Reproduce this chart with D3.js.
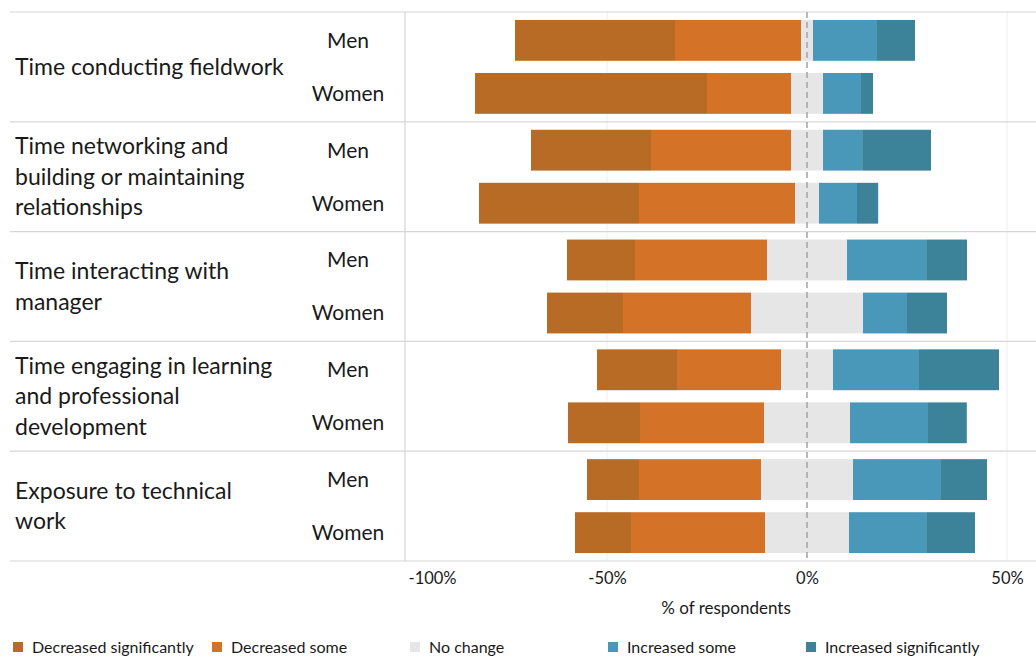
<!DOCTYPE html>
<html>
<head>
<meta charset="utf-8">
<script src="https://cdn.jsdelivr.net/npm/d3@7"></script>
<style>
  body { margin: 0; background: #fff; }
  svg { font-family: Lato, "Open Sans", sans-serif; }
</style>
</head>
<body>
<svg width="1036" height="658"></svg>
<script>
var svg = d3.select('svg');
var width = +svg.attr('width');
var height = +svg.attr('height');

// category labels, already broken into lines
var categories = [
    ["Time conducting fieldwork"],
    ["Time networking and", "building or maintaining", "relationships"],
    ["Time interacting with", "manager"],
    ["Time engaging in learning", "and professional", "development"],
    ["Exposure to technical", "work"]
];
var genders = ["Men", "Women"];

// one value per row: cat1 men, cat1 women, cat2 men, ...
var decSig   = [40, 58, 30, 40, 17, 19, 20, 18, 13, 14];
var decSome  = [31.5, 21, 35, 39, 33, 32, 26, 31, 30.5, 33.5];
var noChange = [3, 8, 8, 6, 20, 28, 13, 21.5, 23, 21];
var incSome  = [16, 9.5, 10, 9.5, 20, 11, 21.5, 19.5, 22, 19.5];
var incSig   = [9.5, 3, 17, 5.3, 10, 10, 20, 9.7, 11.5, 12];

var seriesNames = ["Decreased significantly", "Decreased some", "No change", "Increased some", "Increased significantly"];
var colors = ["#b86b25", "#d47328", "#e6e6e6", "#4a98b9", "#3c8299"];

var tickValues = [-100, -50, 0, 50];

// build rows
var rows = [];
categories.forEach(function(cat, ci) {
    genders.forEach(function(g, gi) {
        var i = ci * 2 + gi;
        var nc = noChange[i];
        var segs = [];
        // negative side, stacked leftwards from -nc/2
        var x0 = -nc / 2;
        segs.push({ s: 1, a: x0 - decSome[i], b: x0 });
        segs.push({ s: 0, a: x0 - decSome[i] - decSig[i], b: x0 - decSome[i] });
        segs.push({ s: 2, a: -nc / 2, b: nc / 2 });
        var x1 = nc / 2;
        segs.push({ s: 3, a: x1, b: x1 + incSome[i] });
        segs.push({ s: 4, a: x1 + incSome[i], b: x1 + incSome[i] + incSig[i] });
        rows.push({ cat: ci, gender: g, segs: segs });
    });
});

var yTop = 12, yBottom = 561;
var x = d3.scaleLinear().domain([-100, 50]).range([407, 1007]);
var yCat = d3.scaleBand().domain(d3.range(categories.length)).range([yTop, yBottom]);
var yG = d3.scaleBand().domain(genders).range([0, yCat.bandwidth()])
    .paddingInner(0.23).paddingOuter(0.15);

// grid
var grid = svg.append('g').attr('class', 'grid');
grid.selectAll('.vgrid').data([-50, 50]).enter().append('line')
    .attr('x1', d => x(d)).attr('x2', d => x(d))
    .attr('y1', yTop).attr('y2', yBottom)
    .attr('stroke', '#efefef').attr('stroke-width', 1);
grid.selectAll('.hgrid').data(d3.range(categories.length + 1)).enter().append('line')
    .attr('x1', 10).attr('x2', width)
    .attr('y1', d => yTop + d * yCat.step()).attr('y2', d => yTop + d * yCat.step())
    .attr('stroke', '#d6d6d6').attr('stroke-width', 1.2);
grid.append('line')
    .attr('x1', 405).attr('x2', 405).attr('y1', yTop).attr('y2', yBottom)
    .attr('stroke', '#d6d6d6').attr('stroke-width', 1.2);

// bars
var rowG = svg.append('g').selectAll('.row').data(rows).enter().append('g')
    .attr('class', 'row')
    .attr('transform', d => 'translate(0,' + (yCat(d.cat) + yG(d.gender)) + ')');
rowG.selectAll('rect').data(d => d.segs).enter().append('rect')
    .attr('x', d => x(d.a))
    .attr('width', d => x(d.b) - x(d.a))
    .attr('y', 0)
    .attr('height', yG.bandwidth())
    .attr('fill', d => colors[d.s]);

// zero line
svg.append('line')
    .attr('x1', x(0)).attr('x2', x(0)).attr('y1', yTop).attr('y2', yBottom)
    .attr('stroke', '#a8a8a8').attr('stroke-width', 1.6)
    .attr('stroke-dasharray', '6,4');

// gender labels
rowG.append('text')
    .attr('x', 348).attr('y', yG.bandwidth() / 2).attr('dy', '0.35em')
    .attr('text-anchor', 'middle').attr('font-size', '21px').attr('fill', '#1a1a1a')
    .text(d => d.gender);

// category labels
var catG = svg.append('g').selectAll('.cat').data(categories).enter().append('text')
    .attr('class', 'cat')
    .attr('font-size', '23px').attr('fill', '#1a1a1a')
    .attr('transform', (d, i) => 'translate(15,' + (yCat(i) + yCat.bandwidth() / 2) + ')');
catG.selectAll('tspan').data(d => d.map((t, j) => ({ t: t, j: j, n: d.length }))).enter()
    .append('tspan')
    .attr('x', 0)
    .attr('y', d => (d.j - (d.n - 1) / 2) * 30.5)
    .attr('dy', '0.35em')
    .text(d => d.t);

// x axis
var axis = svg.append('g').attr('transform', 'translate(0,' + yBottom + ')')
    .call(d3.axisBottom(x).tickValues(tickValues).tickSize(0).tickPadding(11)
        .tickFormat(d => d + '%'));
axis.select('.domain').remove();
axis.selectAll('text').attr('font-size', '16.5px').attr('fill', '#1a1a1a')
    .attr('font-family', 'Lato, sans-serif');
axis.selectAll('.tick').filter(d => d === -100).select('text')
    .attr('text-anchor', 'start').attr('x', 1);

svg.append('text')
    .attr('x', 726).attr('y', 608).attr('dy', '0.35em')
    .attr('text-anchor', 'middle').attr('font-size', '17px').attr('fill', '#1a1a1a')
    .text('% of respondents');

// legend
var legendX = [13, 212, 410, 608, 806];
var leg = svg.append('g').selectAll('.leg').data(seriesNames).enter().append('g')
    .attr('transform', (d, i) => 'translate(' + legendX[i] + ',647)');
leg.append('rect').attr('x', 0).attr('y', -5).attr('width', 10).attr('height', 10)
    .attr('fill', (d, i) => colors[i]);
leg.append('text').attr('x', 19).attr('dy', '0.35em')
    .attr('font-size', '16px').attr('fill', '#1a1a1a')
    .text(d => d);
</script>
</body>
</html>
